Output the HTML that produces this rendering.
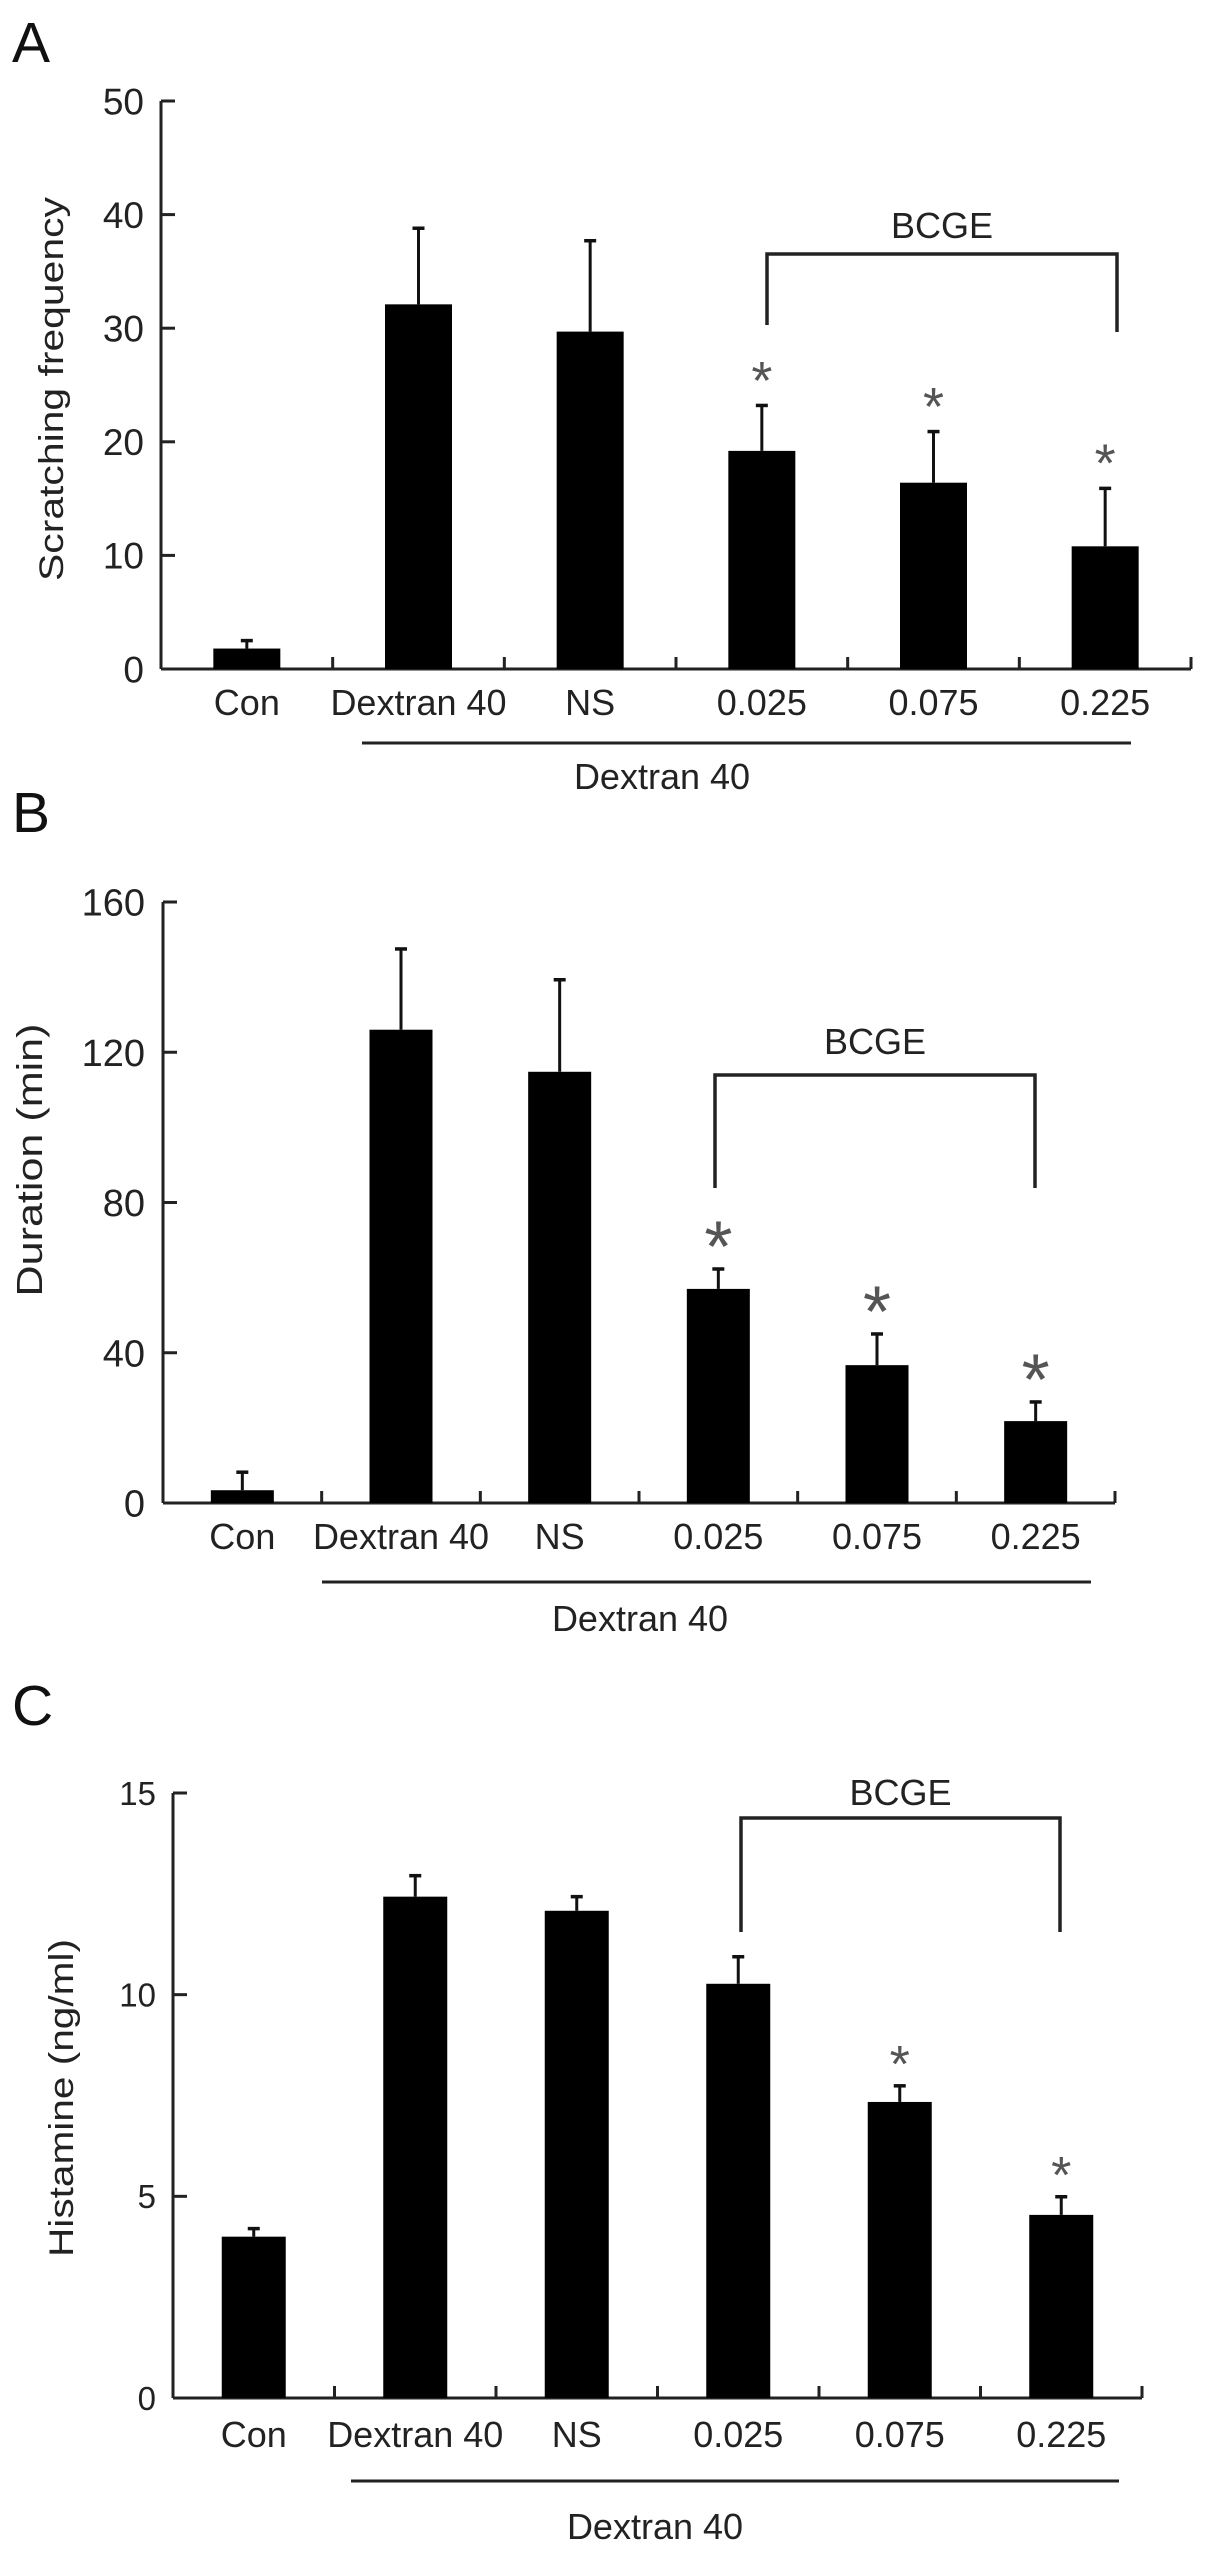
<!DOCTYPE html>
<html><head><meta charset="utf-8"><style>
html,body{margin:0;padding:0;background:#fff;}
svg{display:block;font-family:"Liberation Sans",Arial,sans-serif;}
</style></head><body>
<svg id="fig" width="1205" height="2552" viewBox="0 0 1205 2552" xmlns="http://www.w3.org/2000/svg"></svg>
<script>
// Shared categories
const categories = ["Con", "Dextran 40", "NS", "0.025", "0.075", "0.225"];
// Panel A: Scratching frequency
const valuesA = [1.8, 32.1, 29.7, 19.2, 16.4, 10.8];
const errA = [2.5, 38.8, 37.7, 23.2, 20.9, 15.9];
const ticksA = [0, 10, 20, 30, 40, 50];
const starsA = [false, false, false, true, true, true];
// Panel B: Duration (min)
const valuesB = [3.4, 126, 114.8, 57, 36.7, 21.8];
const errB = [8.2, 147.5, 139.3, 62.3, 45, 26.9];
const ticksB = [0, 40, 80, 120, 160];
const starsB = [false, false, false, true, true, true];
// Panel C: Histamine (ng/ml)
const valuesC = [4.0, 12.43, 12.08, 10.27, 7.34, 4.54];
const errC = [4.2, 12.95, 12.43, 10.94, 7.74, 4.99];
const ticksC = [0, 5, 10, 15];
const starsC = [false, false, false, false, true, true];

const NS = "http://www.w3.org/2000/svg";
const svg = document.getElementById("fig");
function mk(tag, attrs, parent, text) {
  const e = document.createElementNS(NS, tag);
  for (const k in attrs) e.setAttribute(k, attrs[k]);
  if (text !== undefined) e.textContent = text;
  (parent || svg).appendChild(e);
  return e;
}

function panel(cfg) {
  const g = mk("g", {});
  
  
  const yScale = v => cfg.y0 - (v - 0) / cfg.ymax * (cfg.y0 - cfg.ytop);
  const n = cfg.cats.length;
  const cw = (cfg.xend - cfg.x0) / n;
  const xCenter = i => cfg.x0 + cw * (i + 0.5);

  const letter = mk("text", {x: cfg.letterX, y: cfg.letterY, "font-size": 57, fill: "#111"}, g, cfg.letter);
  
  

  const yAxis = mk("line", {x1: cfg.x0, y1: cfg.ytop, x2: cfg.x0, y2: cfg.y0, stroke: "#222", "stroke-width": 3}, g);
  
  
  cfg.ticks.forEach(t => {
    const yy = yScale(t);
    const tk = mk("line", {x1: cfg.x0, y1: yy, x2: cfg.x0 + 14, y2: yy, stroke: "#222", "stroke-width": 3}, g);
    
    
    const tl = mk("text", {x: cfg.tickLabelX, y: yy + cfg.tickFont * 0.36, "font-size": cfg.tickFont, "text-anchor": "end", fill: "#222"}, g, String(t));
    
    
  });
  const yt = mk("text", {x: 0, y: 0, "font-size": cfg.titleFont, "text-anchor": "middle", fill: "#222",
    transform: `translate(${cfg.titleX},${cfg.titleY}) rotate(-90)`, textLength: cfg.titleLen, lengthAdjust: "spacingAndGlyphs"}, g, cfg.title);
  
  

  const xAxis = mk("line", {x1: cfg.x0, y1: cfg.y0, x2: cfg.xend, y2: cfg.y0, stroke: "#222", "stroke-width": 3}, g);
  
  
  for (let i = 1; i <= n; i++) {
    const xx = cfg.x0 + cw * i;
    const tk = mk("line", {x1: xx, y1: cfg.y0, x2: xx, y2: cfg.y0 - 12, stroke: "#222", "stroke-width": 3}, g);
    
    
  }

  cfg.cats.forEach((c, i) => {
    const xc = xCenter(i);
    const top = yScale(cfg.values[i]);
    const bar = mk("rect", {x: xc - cfg.bw / 2, y: top, width: cfg.bw, height: cfg.y0 - top, fill: "#000"}, g);
    
    
    const et = yScale(cfg.err[i]);
    const el = mk("line", {x1: xc, y1: top, x2: xc, y2: et, stroke: "#111", "stroke-width": 3}, g);
    
    
    const ec = mk("line", {x1: xc - 6, y1: et, x2: xc + 6, y2: et, stroke: "#111", "stroke-width": 3.5}, g);
    
    
    if (cfg.stars[i]) {
      const s = mk("text", {x: xc, y: et - cfg.starGap + 0.58 * cfg.starFont, "font-size": cfg.starFont, "text-anchor": "middle", fill: "#555"}, g, "*");
      
      
    }
    const lbl = mk("text", {x: xc, y: cfg.labelY, "font-size": cfg.labelFont, "text-anchor": "middle", fill: "#222"}, g, c);
    
    
  });

  const ul = mk("line", {x1: cfg.ulX1, y1: cfg.ulY, x2: cfg.ulX2, y2: cfg.ulY, stroke: "#222", "stroke-width": 3}, g);
  
  
  const gl = mk("text", {x: cfg.groupX, y: cfg.groupY, "font-size": cfg.labelFont, "text-anchor": "middle", fill: "#222"}, g, "Dextran 40");
  
  

  const br = mk("path", {d: `M${cfg.brL},${cfg.brLB} V${cfg.brTop} H${cfg.brR} V${cfg.brRB}`, fill: "none", stroke: "#222", "stroke-width": 3.5}, g);
  
  
  const bt = mk("text", {x: (cfg.brL + cfg.brR) / 2, y: cfg.brTextY, "font-size": cfg.labelFont, "text-anchor": "middle", fill: "#222"}, g, "BCGE");
  
  
}

panel({name: "panel-a-scratching", letter: "A", letterX: 12, letterY: 62,
  cats: categories, values: valuesA, err: errA, ticks: ticksA, stars: starsA, ymax: 50,
  x0: 161, xend: 1191, y0: 669, ytop: 101, bw: 67,
  tickLabelX: 144, tickFont: 37, title: "Scratching frequency", titleX: 63, titleY: 389, titleFont: 34, titleLen: 384,
  labelY: 715, labelFont: 36, ulX1: 362, ulX2: 1131, ulY: 743, groupX: 662, groupY: 789,
  brL: 767, brR: 1117, brTop: 254, brLB: 325, brRB: 332, brTextY: 238, starGap: 38, starFont: 54});

panel({name: "panel-b-duration", letter: "B", letterX: 12, letterY: 832,
  cats: categories, values: valuesB, err: errB, ticks: ticksB, stars: starsB, ymax: 160,
  x0: 163, xend: 1115, y0: 1503, ytop: 902, bw: 63,
  tickLabelX: 145, tickFont: 38, title: "Duration  (min)", titleX: 42, titleY: 1160, titleFont: 36, titleLen: 273,
  labelY: 1549, labelFont: 36, ulX1: 322, ulX2: 1091, ulY: 1582, groupX: 640, groupY: 1631,
  brL: 715, brR: 1035, brTop: 1075, brLB: 1188, brRB: 1188, brTextY: 1054, starGap: 39, starFont: 72});

panel({name: "panel-c-histamine", letter: "C", letterX: 12, letterY: 1725,
  cats: categories, values: valuesC, err: errC, ticks: ticksC, stars: starsC, ymax: 15,
  x0: 173, xend: 1142, y0: 2398, ytop: 1793, bw: 64,
  tickLabelX: 156, tickFont: 33, title: "Histamine (ng/ml)", titleX: 73, titleY: 2098, titleFont: 34, titleLen: 318,
  labelY: 2447, labelFont: 36, ulX1: 351, ulX2: 1119, ulY: 2481, groupX: 655, groupY: 2539,
  brL: 741, brR: 1060, brTop: 1818, brLB: 1932, brRB: 1932, brTextY: 1805, starGap: 34, starFont: 52});
</script>
</body></html>
